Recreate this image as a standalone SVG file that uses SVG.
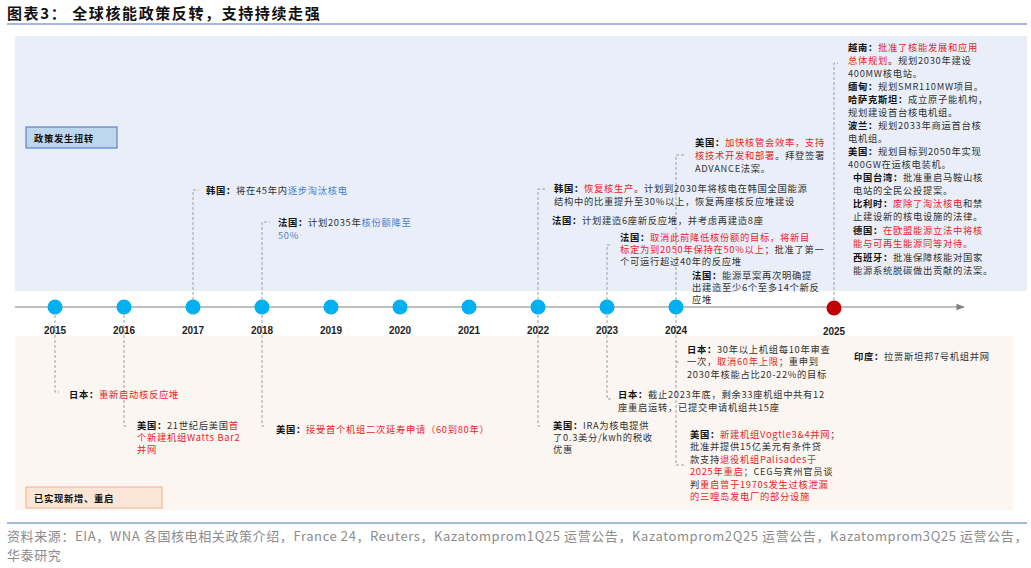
<svg xmlns="http://www.w3.org/2000/svg" width="1031" height="568" viewBox="0 0 1031 568">
<style>
text{font-family:"Noto Sans CJK SC","Liberation Sans",sans-serif;font-size:9.3px;letter-spacing:0.7px;fill:#333}
.b{font-weight:bold;fill:#111}
.r{fill:#E8262A}
.u{fill:#4F7FC8}
.y{font-family:"Liberation Sans",sans-serif;font-weight:bold;font-size:10px;letter-spacing:0;fill:#222;text-anchor:middle}
.c{fill:none;stroke:#A0A0A0;stroke-width:1;stroke-dasharray:3,2}
.dot{fill:#00B0F0}
.src{fill:#8C8C8C;font-size:13px;letter-spacing:0.6px}
</style>
<defs><marker id="ar" viewBox="0 0 10 10" refX="9" refY="5" markerWidth="7" markerHeight="7" orient="auto"><path d="M0,1 L10,5 L0,9 z" fill="#808080"/></marker></defs>
<text x="7" y="19" class="b" style="font-size:15px;letter-spacing:1.6px">图表3：  全球核能政策反转，支持持续走强</text>
<line x1="7" y1="24" x2="1027" y2="24" stroke="#4472C4" stroke-width="1.2"/>
<rect x="15" y="36" width="1012" height="255" fill="#E9EEF8"/>
<rect x="15" y="336" width="998" height="174" fill="#FBF6F2"/>
<g id="label-top"><rect x="26" y="127" width="91" height="21" fill="#BDD7EE" stroke="#4472C4"/><text x="34" y="142" class="b">政策发生扭转</text></g>
<g id="label-bottom"><rect x="26" y="487" width="136" height="21" fill="#FBE5D6" stroke="#F4B183"/><text x="34" y="502" class="b">已实现新增、重启</text></g>
<g id="connectors">
<line x1="15" y1="307" x2="964" y2="307" stroke="#808080" stroke-width="1.2" marker-end="url(#ar)"/>
<path class="c" d="M193,300 V190 H199"/>
<path class="c" d="M262,300 V222 H270"/>
<path class="c" d="M538,300 V189 H546"/>
<path class="c" d="M607,300 V245 H612"/>
<path class="c" d="M676,300 V155 H684"/>
<path class="c" d="M834,300 V63 H838"/>
<path class="c" d="M55,315 V392 H59"/>
<path class="c" d="M124,315 V426 H128"/>
<path class="c" d="M262,315 V426 H266"/>
<path class="c" d="M538,315 V426 H542"/>
<path class="c" d="M607,315 V399 H611"/>
<path class="c" d="M676,315 V465 H684 M676,362 H680"/>
</g>
<g id="timeline">
<circle class="dot" cx="55" cy="307" r="7.5"/><circle class="dot" cx="124" cy="307" r="7.5"/><circle class="dot" cx="193" cy="307" r="7.5"/><circle class="dot" cx="262" cy="307" r="7.5"/><circle class="dot" cx="331" cy="307" r="7.5"/><circle class="dot" cx="400" cy="307" r="7.5"/><circle class="dot" cx="469" cy="307" r="7.5"/><circle class="dot" cx="538" cy="307" r="7.5"/><circle class="dot" cx="607" cy="307" r="7.5"/><circle class="dot" cx="676" cy="307" r="7.5"/><circle cx="834" cy="308" r="7.5" fill="#C00000"/>
<text class="y" x="55" y="334">2015</text><text class="y" x="124" y="334">2016</text><text class="y" x="193" y="334">2017</text><text class="y" x="262" y="334">2018</text><text class="y" x="331" y="334">2019</text><text class="y" x="400" y="334">2020</text><text class="y" x="469" y="334">2021</text><text class="y" x="538" y="334">2022</text><text class="y" x="607" y="334">2023</text><text class="y" x="676" y="334">2024</text><text class="y" x="834" y="335">2025</text>
</g>
<g id="n2017"><text x="206" y="194"><tspan class="b">韩国：</tspan>将在45年内<tspan class="u">逐步淘汰核电</tspan></text></g>
<g id="n2018"><text x="278" y="226"><tspan class="b">法国：</tspan>计划2035年<tspan class="u">核份额降至</tspan></text><text x="278" y="239" class="u">50%</text></g>
<g id="n2022"><text x="554" y="192"><tspan class="b">韩国：</tspan><tspan class="r">恢复核生产</tspan>。计划到2030年将核电在韩国全国能源</text><text x="554" y="205">结构中的比重提升至30%以上，恢复两座核反应堆建设</text><text x="552" y="224"><tspan class="b">法国：</tspan>计划建造6座新反应堆，并考虑再建造8座</text></g>
<g id="n2023"><text x="620" y="241"><tspan class="b">法国：</tspan><tspan class="r">取消此前降低核份额的目标，将新目</tspan></text><text x="620" y="253"><tspan class="r">标定为到2050年保持在50%以上</tspan>；批准了第一</text><text x="620" y="265">个可运行超过40年的反应堆</text></g>
<g id="n2024"><text x="695" y="146"><tspan class="b">美国：</tspan><tspan class="r">加快核管会效率，支持</tspan></text><text x="695" y="159"><tspan class="r">核技术开发和部署</tspan>。拜登签署</text><text x="695" y="172">ADVANCE法案。</text><text x="692" y="279"><tspan class="b">法国：</tspan>能源草案再次明确提</text><text x="692" y="291">出建造至少6个至多14个新反</text><text x="692" y="303">应堆</text></g>
<g id="n2025"><text x="848" y="51"><tspan class="b">越南：</tspan><tspan class="r">批准了核能发展和应用</tspan></text><text x="848" y="64"><tspan class="r">总体规划</tspan>。规划2030年建设</text><text x="848" y="77">400MW核电站。</text><text x="848" y="90"><tspan class="b">缅甸：</tspan>规划SMR110MW项目。</text><text x="848" y="103"><tspan class="b">哈萨克斯坦：</tspan>成立原子能机构，</text><text x="848" y="116">规划建设首台核电机组。</text><text x="848" y="129"><tspan class="b">波兰：</tspan>规划2033年商运首台核</text><text x="848" y="142">电机组。</text><text x="848" y="155"><tspan class="b">美国：</tspan>规划目标到2050年实现</text><text x="848" y="168">400GW在运核电装机。</text><text x="853" y="181"><tspan class="b">中国台湾：</tspan>批准重启马鞍山核</text><text x="853" y="194">电站的全民公投提案。</text><text x="853" y="207"><tspan class="b">比利时：</tspan><tspan class="r">废除了淘汰核电</tspan>和禁</text><text x="853" y="220">止建设新的核电设施的法律。</text><text x="853" y="234"><tspan class="b">德国：</tspan><tspan class="r">在欧盟能源立法中将核</tspan></text><text x="853" y="247" class="r">能与可再生能源同等对待。</text><text x="853" y="261"><tspan class="b">西班牙：</tspan>批准保障核能对国家</text><text x="853" y="274">能源系统脱碳做出贡献的法案。</text></g>
<g id="b2015"><text x="69" y="398"><tspan class="b">日本：</tspan><tspan class="r">重新启动核反应堆</tspan></text></g>
<g id="b2016"><text x="137" y="429"><tspan class="b">美国：</tspan>21世纪后美国<tspan class="r">首</tspan></text><text x="137" y="441" class="r">个新建机组Watts Bar2</text><text x="137" y="453" class="r">并网</text></g>
<g id="b2018"><text x="276" y="433"><tspan class="b">美国：</tspan><tspan class="r">接受首个机组二次延寿申请（60到80年）</tspan></text></g>
<g id="b2022"><text x="553" y="429"><tspan class="b">美国：</tspan>IRA为核电提供</text><text x="553" y="441">了0.3美分/kwh的税收</text><text x="553" y="453">优惠</text></g>
<g id="b2023"><text x="618" y="398"><tspan class="b">日本：</tspan>截止2023年底，剩余33座机组中共有12</text><text x="618" y="411">座重启运转，已提交申请机组共15座</text></g>
<g id="b2024"><text x="687" y="353"><tspan class="b">日本：</tspan>30年以上机组每10年审查</text><text x="687" y="365">一次，<tspan class="r">取消60年上限</tspan>；重申到</text><text x="687" y="378">2030年核能占比20-22%的目标</text><text x="690" y="438"><tspan class="b">美国：</tspan><tspan class="r">新建机组Vogtle3&amp;4并网</tspan>；</text><text x="690" y="450">批准并提供15亿美元有条件贷</text><text x="690" y="463">款支持<tspan class="r">退役机组Palisades于</tspan></text><text x="690" y="475"><tspan class="r">2025年重启</tspan>；CEG与宾州官员谈</text><text x="690" y="488">判<tspan class="r">重启曾于1970s发生过核泄漏</tspan></text><text x="690" y="500" class="r">的三哩岛发电厂的部分设施</text></g>
<g id="b2025"><text x="854" y="360"><tspan class="b">印度：</tspan>拉贾斯坦邦7号机组并网</text></g>
<line x1="7" y1="523" x2="1027" y2="523" stroke="#4472C4" stroke-width="1"/>
<text x="7" y="541" class="src">资料来源：EIA，WNA 各国核电相关政策介绍，France 24，Reuters，Kazatomprom1Q25 运营公告，Kazatomprom2Q25 运营公告，Kazatomprom3Q25 运营公告，</text>
<text x="7" y="560" class="src">华泰研究</text>
</svg>
